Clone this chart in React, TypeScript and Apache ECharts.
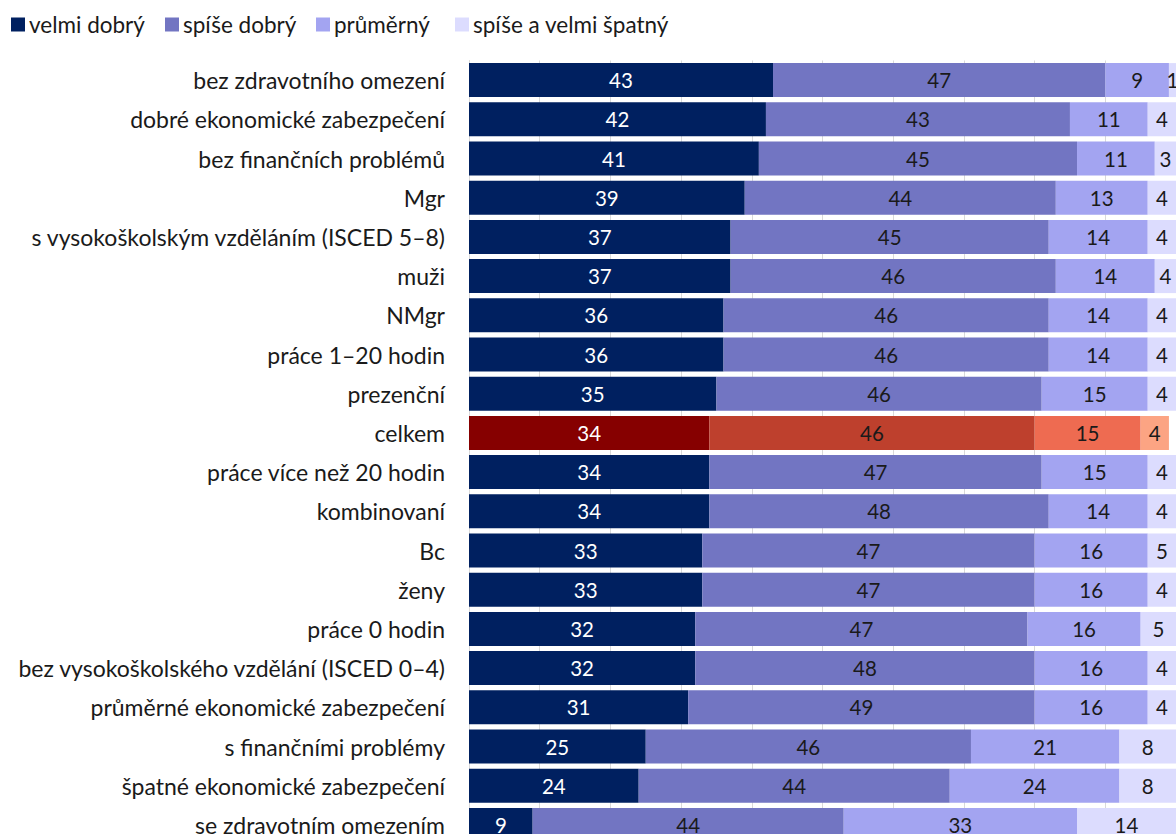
import React, { useEffect, useRef } from "react";
import * as echarts from "echarts";

const categories = [
  "bez zdravotního omezení",
  "dobré ekonomické zabezpečení",
  "bez finančních problémů",
  "Mgr",
  "s vysokoškolským vzděláním (ISCED 5–8)",
  "muži",
  "NMgr",
  "práce 1–20 hodin",
  "prezenční",
  "celkem",
  "práce více než 20 hodin",
  "kombinovaní",
  "Bc",
  "ženy",
  "práce 0 hodin",
  "bez vysokoškolského vzdělání (ISCED 0–4)",
  "průměrné ekonomické zabezpečení",
  "s finančními problémy",
  "špatné ekonomické zabezpečení",
  "se zdravotním omezením",
];

const velmiDobry = [43, 42, 41, 39, 37, 37, 36, 36, 35, 34, 34, 34, 33, 33, 32, 32, 31, 25, 24, 9];
const spiseDobry = [47, 43, 45, 44, 45, 46, 46, 46, 46, 46, 47, 48, 47, 47, 47, 48, 49, 46, 44, 44];
const prumerny = [9, 11, 11, 13, 14, 14, 14, 14, 15, 15, 15, 14, 16, 16, 16, 16, 16, 21, 24, 33];
const spatny = [1, 4, 3, 4, 4, 4, 4, 4, 4, 4, 4, 4, 5, 4, 5, 4, 4, 8, 8, 14];

const seriesNames = ["velmi dobrý", "spíše dobrý", "průměrný", "spíše a velmi špatný"];
const blueColors = ["#002060", "#7275C2", "#A3A4F1", "#DCDCFE"];
const redColors = ["#860000", "#BE402D", "#EE6B51", "#FCA483"];
const highlight = "celkem";
const legendLefts = [11, 165, 316, 455];

const FONT = "Lato";

export default function App() {
  const ref = useRef<HTMLDivElement>(null);
  useEffect(() => {
    if (!ref.current) return;
    const chart = echarts.init(ref.current, null, { renderer: "svg" });
    const allData = [velmiDobry, spiseDobry, prumerny, spatny];
    const series = allData.map((vals, si) => ({
      name: seriesNames[si],
      type: "bar",
      stack: "total",
      barWidth: 34,
      itemStyle: { color: blueColors[si] },
      label: {
        show: true,
        position: "inside",
        fontFamily: FONT,
        fontSize: 20.5,
        color: si === 0 ? "#ffffff" : "#1a1a1a",
      },
      data: vals.map((v, i) =>
        categories[i] === highlight
          ? { value: v, itemStyle: { color: redColors[si] } }
          : v
      ),
    }));
    chart.setOption({
      animation: false,
      textStyle: { fontFamily: FONT },
      color: blueColors,
      legend: seriesNames.map((n, i) => ({
        left: legendLefts[i],
        top: 13,
        padding: 0,
        icon: "rect",
        itemWidth: 14,
        itemHeight: 14,
        itemGap: 0,
        textStyle: { fontFamily: FONT, fontSize: 22.5, color: "#1a1a1a", padding: [0, 0, 0, -1] },
        data: [n],
      })),
      grid: { left: 469, right: 0, top: 60.5, bottom: 900 - 844.5 },
      xAxis: {
        type: "value",
        min: 0,
        max: 100,
        interval: 10,
        axisLabel: { show: false },
        axisLine: { show: false },
        axisTick: { show: false },
        splitLine: { lineStyle: { color: "#d9d9d9", width: 1 } },
      },
      yAxis: {
        type: "category",
        inverse: true,
        data: categories,
        axisTick: { show: false },
        axisLine: { show: true, lineStyle: { color: "#d9d9d9" } },
        axisLabel: { fontFamily: FONT, fontSize: 23, color: "#1a1a1a", margin: 24 },
      },
      series,
    });
    return () => chart.dispose();
  }, []);
  return (
    <div style={{ position: "fixed", left: 0, top: 0, width: 1176, height: 834, overflow: "hidden", background: "#fff" }}>
      <div ref={ref} style={{ width: 1176, height: 900 }} />
    </div>
  );
}
